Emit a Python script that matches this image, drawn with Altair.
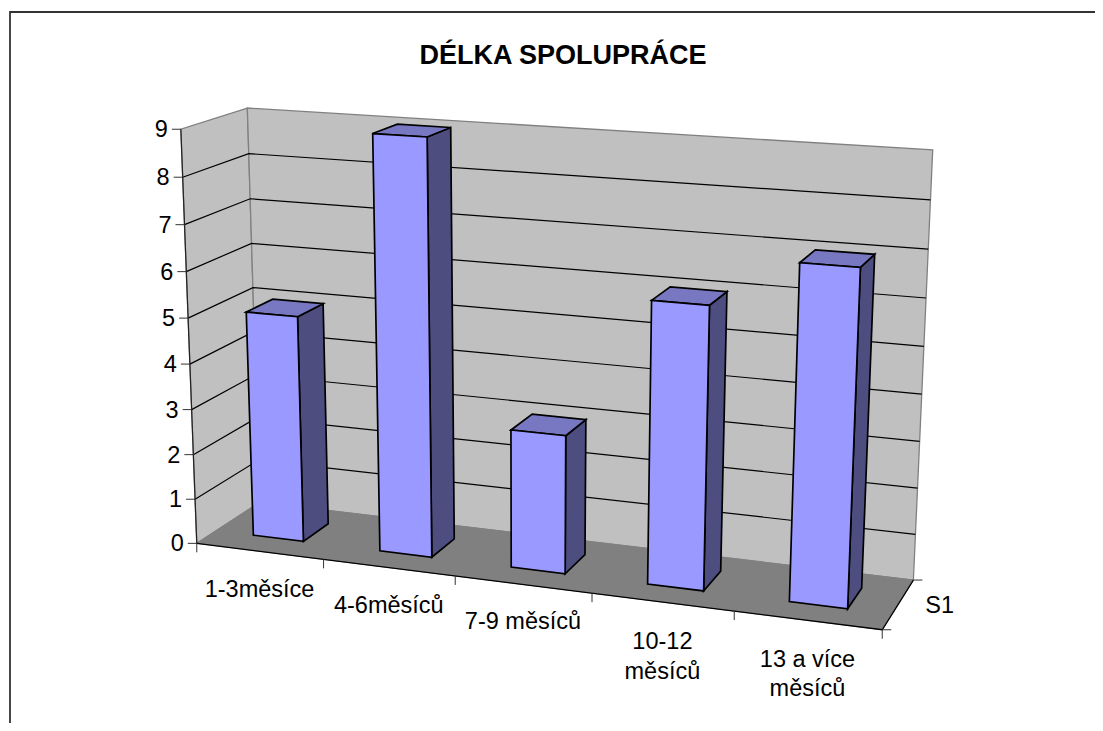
import numpy as np
import altair as alt

TITLE = "DÉLKA SPOLUPRÁCE"
CATEGORIES = ["1-3měsíce", "4-6měsíců", "7-9 měsíců", "10-12\nměsíců", "13 a více\nměsíců"]
VALUES = [5, 9, 3, 6, 7]
Y_TICKS = list(range(10))
SERIES_LABEL = "S1"

W_COL, F_COL, EDGE = "#C0C0C0", "#808080", "#808080"
FRONT, TOP, SIDE = "#9999FF", "#7777C2", "#4D4D80"
FONT = "Liberation Sans"
OFF = 8

# Camera fit: (category position, value, depth) -> page pixel, solved from the plot box
ANCHORS = [
    ((0, 0, 0), (197, 543)), ((0, 9, 0), (180, 129)), ((0, 5, 0), (189, 319)),
    ((0, 0, 1), (259, 502)), ((0, 9, 1), (248, 107)), ((0, 5, 1), (253, 289)),
    ((5, 0, 0), (882, 630)), ((5, 0, 1), (914, 580)), ((5, 9, 1), (933, 150)),
    ((5, 6, 1), (925, 298)), ((1, 0, 0), (323, 559)), ((2, 0, 0), (455, 576)),
    ((3, 0, 0), (592, 593)), ((4, 0, 0), (735, 611)),
]
A = []
for (X, Y, Z), (u, v) in ANCHORS:
    A.append([X, Y, Z, 1, 0, 0, 0, 0, -u * X, -u * Y, -u * Z, -u])
    A.append([0, 0, 0, 0, X, Y, Z, 1, -v * X, -v * Y, -v * Z, -v])
P = np.linalg.svd(np.array(A, float))[2][-1].reshape(3, 4)


def pr(x, y, z):
    h = P @ np.array([x, y, z, 1.0])
    return [float(h[0] / h[2]) - OFF, float(h[1] / h[2]) - OFF]


features = []


def shape(pts, fill="none", stroke="none", sw=1.0):
    if fill == "none":
        geom = {"type": "LineString", "coordinates": pts}
    else:
        geom = {"type": "Polygon", "coordinates": [pts + [pts[0]]]}
    features.append({"type": "Feature", "geometry": geom,
                     "properties": {"fill": fill, "stroke": stroke, "sw": sw}})


N = len(CATEGORIES)
YMAX = Y_TICKS[-1]
# walls and floor
shape([pr(0, 0, 0), pr(0, YMAX, 0), pr(0, YMAX, 1), pr(0, 0, 1)], W_COL, EDGE, 1.3)
shape([pr(0, 0, 1), pr(0, YMAX, 1), pr(N, YMAX, 1), pr(N, 0, 1)], W_COL, EDGE, 1.3)
shape([pr(0, 0, 0), pr(0, 0, 1), pr(N, 0, 1), pr(N, 0, 0)], F_COL, EDGE, 1.0)
# gridlines
for t in Y_TICKS[1:-1]:
    shape([pr(0, t, 0), pr(0, t, 1), pr(N, t, 1)], stroke="#000000", sw=1.2)
# axis lines
shape([pr(0, 0, 0), pr(0, YMAX, 0)], stroke="#222222", sw=1.2)
shape([pr(0, 0, 0), pr(N, 0, 0), pr(N, 0, 1)], stroke="#000000", sw=1.3)
# ticks


def shift(p, dx, dy):
    return [p[0] + dx, p[1] + dy]


for t in Y_TICKS:
    p = pr(0, t, 0)
    shape([p, shift(p, -9, 0)], stroke="#333333", sw=1.0)
for i in range(N + 1):
    p = pr(i, 0, 0)
    shape([p, shift(p, 0, 9)], stroke="#333333", sw=1.0)
for z in (0, 1):
    p = pr(N, 0, z)
    shape([p, shift(p, 9, 0)], stroke="#333333", sw=1.0)
# bars
BW = 0.4
Z0, Z1 = 0.3, 0.72
for i, v in enumerate(VALUES):
    a, b = i + 0.5 - BW / 2, i + 0.5 + BW / 2
    shape([pr(b, 0, Z0), pr(b, v, Z0), pr(b, v, Z1), pr(b, 0, Z1)], SIDE, "#000000", 1.7)
    shape([pr(a, v, Z0), pr(a, v, Z1), pr(b, v, Z1), pr(b, v, Z0)], TOP, "#000000", 1.7)
    shape([pr(a, 0, Z0), pr(a, v, Z0), pr(b, v, Z0), pr(b, 0, Z0)], FRONT, "#000000", 1.7)
# chart border
shape([[10 - OFF, 740], [10 - OFF, 12 - OFF], [1110, 12 - OFF]], stroke="#333333", sw=1.8)

geo = alt.Chart(alt.Data(values=features)).mark_geoshape().encode(
    fill=alt.Fill("properties.fill:N", scale=None),
    stroke=alt.Stroke("properties.stroke:N", scale=None),
    strokeWidth=alt.StrokeWidth("properties.sw:Q", scale=None),
).project(type="identity", scale=1, translate=[0, 0])

# text
rows = []
for t in Y_TICKS:
    p = pr(0, t, 0)
    rows.append({"t": str(t), "x": p[0] - 13, "y": p[1] + 8, "a": "right"})
X_LABEL_DROP = [46, 45.5, 44.5, 47, 46.5]
for i, c in enumerate(CATEGORIES):
    mid = pr(i + 0.5, 0, 0)
    for j, line in enumerate(c.split("\n")):
        rows.append({"t": line, "x": mid[0], "y": mid[1] + X_LABEL_DROP[i] + 29.5 * j, "a": "center"})
p = pr(N, 0, 0.5)
rows.append({"t": SERIES_LABEL, "x": p[0] + 27, "y": p[1] + 9, "a": "left"})

base = alt.Chart(alt.Data(values=rows))
lbl = []
for al in ("right", "center", "left"):
    lbl.append(base.transform_filter(alt.datum.a == al).mark_text(
        font=FONT, fontSize=23.5, align=al, baseline="alphabetic", color="#000000"
    ).encode(x=alt.X("x:Q", scale=None, axis=None), y=alt.Y("y:Q", scale=None, axis=None), text="t:N"))

title = alt.Chart(alt.Data(values=[{"t": TITLE, "x": 563 - OFF, "y": 64 - OFF}])).mark_text(
    font=FONT, fontSize=27, fontWeight="bold", align="center", baseline="alphabetic", color="#000000"
).encode(x=alt.X("x:Q", scale=None, axis=None), y=alt.Y("y:Q", scale=None, axis=None), text="t:N")

chart = alt.layer(geo, *lbl, title).properties(
    width=1087, height=715, padding=0,
    autosize=alt.AutoSizeParams(type="none"),
).configure_view(stroke=None)

chart.save("out.html", embed_options={"renderer": "svg", "actions": False})
